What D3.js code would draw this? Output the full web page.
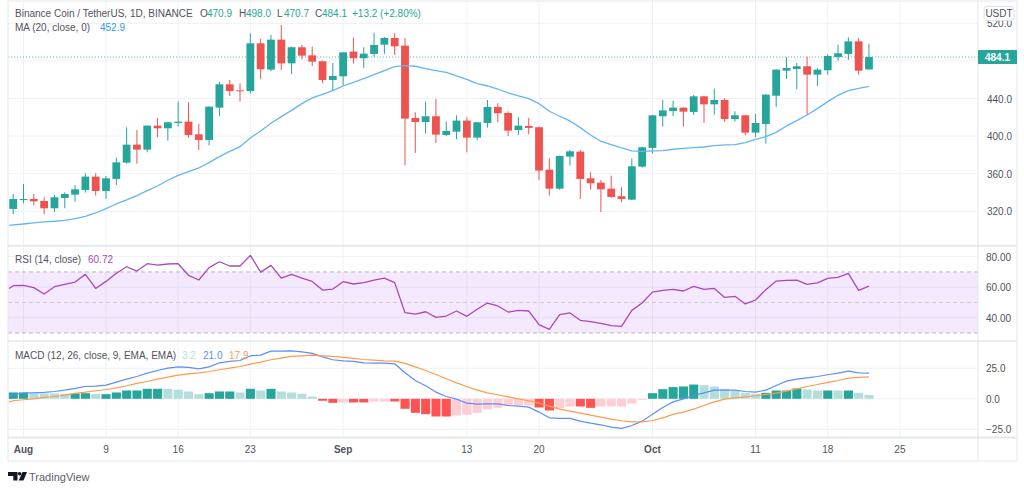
<!DOCTYPE html>
<html>
<head>
<meta charset="utf-8">
<script src="https://cdn.jsdelivr.net/npm/d3@7"></script>
<style>
html,body{margin:0;padding:0;background:#fff;overflow:hidden}
text{font-family:"Liberation Sans",Arial,sans-serif;}
</style>
</head>
<body>
<svg id="c" width="1024" height="491"></svg>
<script>
// Daily candles, 31 Jul – 22 Oct
const opens=[322.5,332.1,333.1,331.0,323.2,334.2,337.7,342.7,356.9,341.6,354.4,371.8,390.9,385.6,411.1,408.3,414.0,415.4,401.9,395.9,430.3,455.1,448.7,448.0,498.7,470.7,502.6,477.4,494.5,485.9,479.6,459.7,463.6,489.9,482.8,487.4,497.3,504.4,496.2,419.3,415.0,421.1,401.2,404.7,416.5,398.4,414.0,431.0,424.6,406.5,410.8,409.4,364.3,344.1,378.2,383.5,355.1,350.5,344.1,336.0,332.4,367.5,387.4,421.1,426.7,430.3,425.7,442.3,433.8,438.4,418.2,422.1,403.7,412.9,443.0,469.6,471.4,474.3,465.4,470.0,484.2,487.4,500.8,470.9];
const highs=[338.4,349.1,338.4,334.9,337.4,340.2,348.0,360.4,360.4,357.6,377.1,409.4,406.5,411.5,419.3,415.4,436.7,436.0,412.9,431.7,457.6,459.7,456.2,509.4,503.3,507.6,518.2,495.2,496.9,495.2,480.3,477.8,489.1,504.7,494.5,510.1,505.5,509.4,504.4,425.3,436.7,439.5,415.7,422.1,420.0,415.0,438.4,434.9,426.4,420.4,419.3,410.1,376.4,379.2,385.2,385.2,361.5,353.3,357.9,345.5,376.4,388.8,422.5,438.4,437.7,430.6,443.8,443.0,450.5,440.2,426.4,422.8,423.5,444.5,471.4,483.8,477.8,484.5,472.1,487.0,497.3,505.1,504.4,498.0];
const lows=[316.8,328.5,326.4,316.8,319.3,323.2,330.3,339.9,336.7,333.1,348.0,370.7,370.7,382.8,399.1,395.2,410.1,398.4,385.2,390.2,421.4,442.7,436.7,445.2,460.4,468.9,470.4,466.1,481.7,474.6,456.2,448.4,453.7,477.1,472.5,484.5,487.4,486.3,368.9,382.1,402.6,392.7,400.1,396.6,382.8,395.5,409.0,414.7,400.1,401.2,401.9,353.3,336.7,343.0,368.6,333.1,343.0,319.3,334.5,329.6,331.7,366.5,381.3,410.1,421.4,410.1,422.5,414.0,422.8,415.0,415.4,400.8,399.1,392.0,431.0,460.8,449.8,422.5,453.3,465.4,480.3,481.0,465.4,470.7];
const closes=[333.1,333.1,330.6,323.2,334.9,338.4,343.4,356.9,341.6,355.1,372.1,390.9,385.6,411.1,408.3,414.7,415.4,401.2,395.9,431.3,455.1,448.0,448.0,498.7,471.1,502.6,477.4,494.5,485.6,479.2,459.7,464.0,489.1,482.8,487.7,496.9,504.4,495.5,418.6,415.0,421.1,401.6,405.5,416.5,398.4,414.7,431.0,424.3,405.8,411.1,408.7,363.3,344.1,378.9,383.8,354.4,349.8,343.4,335.2,333.1,367.9,388.1,422.1,427.4,430.3,426.0,442.3,433.8,438.4,418.2,422.1,403.7,414.0,444.1,470.7,472.5,474.3,465.4,470.7,485.2,488.1,500.8,469.6,484.1];
// Indicator series start one day before the first candle (30 Jul)
const ma20=[305.1,305.5,306.5,307.6,308.7,309.4,310.4,312.2,314.7,318.2,322.8,327.8,332.1,336.7,342.0,346.9,353.0,358.3,362.2,366.1,371.8,378.2,383.8,388.8,398.0,405.5,413.6,420.7,427.4,434.5,440.6,444.5,448.4,453.3,457.2,461.1,465.4,469.6,473.9,475.0,474.3,471.8,469.6,467.9,464.0,460.4,455.8,453.3,450.1,445.9,442.7,439.9,434.5,426.4,421.1,416.1,409.0,401.2,394.5,390.9,387.4,384.2,383.8,384.2,384.5,386.0,387.0,387.7,388.4,389.9,390.6,390.9,393.0,396.6,399.4,404.0,410.8,416.5,422.5,429.2,436.7,443.4,448.4,450.8,452.9];
const rsi=[59.2,61.0,61.2,59.7,55.5,60.3,61.9,63.4,68.4,59.2,63.8,69.1,73.4,70.6,75.4,74.5,75.2,75.4,67.8,64.7,72.8,76.7,73.9,73.9,80.9,69.9,74.3,66.0,68.4,66.0,63.8,58.1,58.8,63.6,62.1,63.0,64.7,66.0,63.0,43.3,42.4,43.9,40.2,41.1,44.4,40.9,45.5,49.6,47.7,43.7,44.8,44.4,35.4,32.3,42.0,43.1,38.3,37.4,36.3,34.8,34.3,44.8,49.6,56.8,57.9,58.6,57.5,60.5,58.6,59.2,53.3,54.0,49.0,51.6,58.4,64.0,64.5,64.7,61.9,62.8,65.8,66.4,69.1,57.9,60.72];
const macdLine=[1.9,3.6,4.6,4.9,5.2,6.0,7.1,8.5,10.1,10.4,11.2,13.7,16.1,18.3,21.0,23.2,25.1,26.2,25.7,24.6,26.2,29.5,30.6,31.4,35.2,35.8,39.1,39.1,39.3,38.5,37.2,34.4,32.0,31.1,30.6,29.5,29.2,29.2,28.7,21.3,15.0,10.7,5.5,1.9,-0.3,-3.6,-4.4,-4.1,-4.1,-5.5,-6.0,-6.8,-10.9,-15.6,-16.1,-16.1,-18.3,-19.9,-21.3,-23.2,-24.3,-21.9,-18.3,-12.6,-7.1,-2.5,0.0,2.7,4.9,7.1,7.1,7.1,6.0,5.5,7.1,10.9,14.5,16.1,17.2,18.3,19.7,21.0,22.7,21.3,21.0];
const signalLine=[-2.5,-1.6,-0.8,0,1.1,1.9,3.0,4.4,5.5,6.6,7.6,9.0,10.7,12.6,14.2,16.1,17.8,19.4,20.5,21.3,22.4,23.8,25.1,26.5,28.4,30.1,32.0,33.3,34.7,35.2,35.8,35.2,34.7,33.9,33.1,32.2,31.7,31.1,30.9,29.0,26.2,23.2,19.9,16.4,13.1,10.1,7.1,4.9,3.3,1.6,0,-1.6,-3.6,-6.0,-8.5,-10.1,-11.7,-13.4,-15.0,-16.7,-18.0,-18.9,-18.9,-17.8,-15.6,-12.8,-10.9,-8.5,-5.5,-2.5,-0.3,0.8,1.6,2.5,3.6,4.6,6.3,8.2,10.1,11.7,13.4,15.0,16.9,17.5,17.9];
// Histogram starts at the first candle
const hist=[5.2,5.2,4.4,4.4,4.4,4.1,4.4,4.6,3.8,3.8,5.2,6.8,6.8,8.2,8.2,8.2,7.4,6.0,3.8,4.6,6.0,6.0,5.2,8.2,6.8,8.2,6.0,5.2,4.1,1.9,-1.6,-3.3,-3.0,-3.0,-3.0,-2.2,-2.2,-2.2,-8.2,-11.5,-12.6,-14.5,-14.5,-13.7,-13.1,-11.5,-8.7,-7.4,-6.0,-5.5,-5.5,-7.1,-9.6,-7.7,-6.3,-6.3,-7.4,-6.3,-6.3,-6.3,-3.8,-0.8,4.6,7.9,9.6,10.1,11.7,11.2,10.1,8.2,6.8,4.9,4.1,4.9,6.8,6.8,8.5,7.6,6.8,6.8,6.8,6.8,4.9,3.2];
const histStrong=[1,1,0,0,0,0,1,1,0,1,1,1,1,1,1,0,0,0,0,1,1,1,0,1,0,1,0,0,0,0,1,1,0,1,1,0,0,1,1,1,1,1,1,0,0,0,0,0,0,0,0,1,1,0,0,1,1,0,0,0,0,0,1,1,1,1,1,0,0,0,0,0,0,1,1,1,1,0,0,1,0,1,0,0];
const priceTicks=[320,360,400,440,480,520];
const priceLabels=[320,360,400,440,520];
const rsiTicks=[40,60,80];
const macdTicks=[-25,0,25];
const timeTicks=[{d:1,t:"Aug",b:1},{d:9,t:"9"},{d:16,t:"16"},{d:23,t:"23"},{d:32,t:"Sep",b:1},{d:44,t:"13"},{d:51,t:"20"},{d:62,t:"Oct",b:1},{d:72,t:"11"},{d:79,t:"18"},{d:86,t:"25"}];

const W={l:8,r:978,outer:1017};
const UP="#26a69a",DOWN="#ef5350",GRID="#eff1f6",BORDER="#e6e7ec",TXT="#50535e";
const svg=d3.select("#c");
const x=d3.scaleLinear().domain([0,86]).range([13.2,899.9]);
const yP=d3.scaleLinear().domain([320,520]).range([211.3,23.3]);
const yR=d3.scaleLinear().domain([40,80]).range([317.7,256.7]);
const yM=d3.scaleLinear().domain([-25,25]).range([429.3,368.3]);

function rect(x0,y0,w,h,fill,op){return svg.append("rect").attr("x",x0).attr("y",y0).attr("width",w).attr("height",h).attr("fill",fill).attr("opacity",op==null?1:op);}
function hline(x0,x1,y,c,w,dash){const l=svg.append("line").attr("x1",x0).attr("x2",x1).attr("y1",y).attr("y2",y).attr("stroke",c).attr("stroke-width",w||1);if(dash)l.attr("stroke-dasharray",dash);return l;}
function vline(xv,y0,y1,c,w){return svg.append("line").attr("x1",xv).attr("x2",xv).attr("y1",y0).attr("y2",y1).attr("stroke",c).attr("stroke-width",w||1);}
function txt(xv,y,s,o){o=o||{};return svg.append("text").attr("x",xv).attr("y",y).attr("text-anchor",o.a||"start").attr("font-size",o.s||10).attr("fill",o.c||TXT).attr("font-weight",o.w||400).text(s);}

// grid
timeTicks.forEach(t=>vline(x(t.d),1,437.5,GRID));
priceTicks.forEach(p=>hline(W.l,W.r,yP(p),GRID));
rsiTicks.forEach(p=>hline(W.l,W.r,yR(p),GRID));
macdTicks.forEach(p=>hline(W.l,W.r,yM(p),GRID));

// RSI band
rect(W.l,yR(70),W.r-W.l,yR(30)-yR(70),"#9c27ff",0.1);
hline(W.l,W.r,yR(70),"#b9b7bf",1,"4 3");
hline(W.l,W.r,yR(50),"#cfc9d6",1,"4 3");
hline(W.l,W.r,yR(30),"#b9b7bf",1,"4 3");

// last price line
hline(W.l,W.r,yP(484.1),UP,1,"1 2").attr("opacity",.8);

// candles
const idx=d3.range(opens.length);
const col=i=>closes[i]>=opens[i]?UP:DOWN;
const g=svg.append("g");
g.selectAll("line").data(idx).join("line")
 .attr("x1",i=>x(i)).attr("x2",i=>x(i)).attr("y1",i=>yP(highs[i])).attr("y2",i=>yP(lows[i]))
 .attr("stroke",col).attr("stroke-width",1);
g.selectAll("rect").data(idx).join("rect")
 .attr("x",i=>x(i)-3.9).attr("width",7.8)
 .attr("y",i=>yP(Math.max(opens[i],closes[i])))
 .attr("height",i=>Math.max(1,Math.abs(yP(opens[i])-yP(closes[i]))))
 .attr("fill",col);

// series lines (indices start at -1)
const lineOf=(scale)=>d3.line().x((d,i)=>x(i-1+ (i===0?0.6:0))).y(d=>scale(d));
function draw(data,scale,c,w){svg.append("path").attr("d",lineOf(scale)(data)).attr("fill","none").attr("stroke",c).attr("stroke-width",w).attr("stroke-linejoin","round");}
draw(ma20,yP,"#64b5f6",1.3);
draw(rsi,yR,"#ab47bc",1.3);

// histogram
svg.append("g").selectAll("rect").data(hist).join("rect")
 .attr("x",(d,i)=>x(i)-4.5).attr("width",9.1)
 .attr("y",d=>d>=0?yM(d):yM(0))
 .attr("height",d=>Math.abs(yM(d)-yM(0)))
 .attr("fill",(d,i)=>d>=0?(histStrong[i]?"#26a69a":"#b2dfdb"):(histStrong[i]?"#ff5252":"#ffcdd2"));
draw(macdLine,yM,"#5b8ff9",1.2);
draw(signalLine,yM,"#ff9a4d",1.2);

// pane borders
hline(W.l,W.outer,1,BORDER);
hline(W.l,W.outer,245.7,BORDER,2);
hline(W.l,W.outer,341,BORDER,1.5);
hline(W.l,W.outer,437.5,BORDER,2);
hline(W.l,W.outer,461,BORDER,1);
vline(W.l,1,461,BORDER);
vline(W.r,1,461,BORDER);
vline(W.outer,1,461,BORDER);

// price axis
priceLabels.forEach(p=>txt(987,yP(p)+4,p.toFixed(1)));
rsiTicks.forEach(p=>txt(986,yR(p)+4,p.toFixed(2)));
macdTicks.forEach(p=>txt(986,yM(p)+4,(p<0?"−"+Math.abs(p):p).toString()+".0"));
rect(978,50,39,14,UP);
txt(997.5,60.6,"484.1",{a:"middle",c:"#fff",w:700});
// USDT box
svg.append("rect").attr("x",984).attr("y",6.5).attr("width",30).attr("height",14).attr("rx",3).attr("fill","#fff").attr("stroke","#dfe1e7");
txt(999,17.3,"USDT",{a:"middle"});

// time axis
timeTicks.forEach(t=>txt(x(t.d),453,t.t,{a:"middle",w:t.b?700:400}));

// legends
const GT="#26a69a",CB="#5b8ff9",CO="#ff9a4d",CM="#ab47bc";
[[15,"Binance Coin / TetherUS, 1D, BINANCE",TXT],[200,"O",TXT],[207,"470.9",GT],[239,"H",TXT],[246,"498.0",GT],[277,"L",TXT],[284,"470.7",GT],[315,"C",TXT],[322,"484.1",GT],[352,"+13.2 (+2.80%)",GT]].forEach(p=>txt(p[0],17,p[1],{c:p[2]}));
txt(15,31,"MA (20, close, 0)");txt(100,31,"452.9",{c:"#2f9bf0"});
txt(15,263,"RSI (14, close)");txt(88,263,"60.72",{c:CM});
txt(15,359,"MACD (12, 26, close, 9, EMA, EMA)");txt(182,359,"3.2",{c:"#b2dfdb"});txt(203,359,"21.0",{c:CB});txt(229,359,"17.9",{c:CO});

// brand
const bx=8,by=472;
svg.append("path").attr("fill","#131722").attr("d",`M${bx} ${by}h9.5v8.5h-4.2v-4.6h-5.3z`);
svg.append("circle").attr("cx",bx+11.6).attr("cy",by+1.8).attr("r",1.8).attr("fill","#131722");
svg.append("path").attr("fill","#131722").attr("d",`M${bx+14.5} ${by}h4.5l-3.5 8.5h-4.8z`);
txt(29,481,"TradingView",{s:11,c:"#5d606b"});
</script>
</body>
</html>
